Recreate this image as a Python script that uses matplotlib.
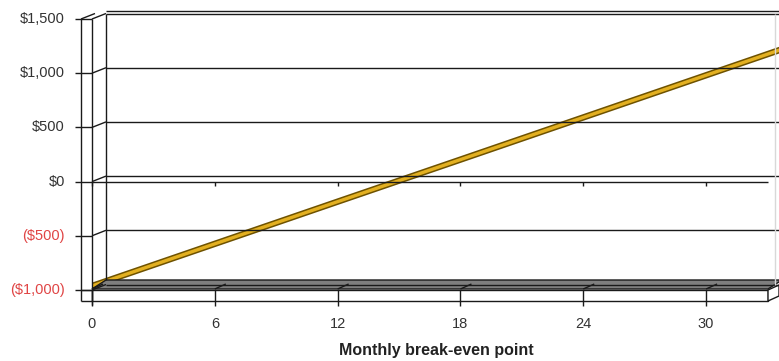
import matplotlib
matplotlib.use("Agg")
import matplotlib.pyplot as plt
import matplotlib.patheffects as pe
from matplotlib.transforms import ScaledTranslation
from matplotlib.patches import Polygon
from matplotlib.lines import Line2D

plt.rcParams['font.family'] = ['Liberation Sans', 'DejaVu Sans']

# cumulative profit by month
months = [0, 6, 12, 18, 24, 30, 36]
profit = [-963, -574, -185, 203, 592, 981, 1370]

y_ticks = [-1000, -500, 0, 500, 1000, 1500]
y_labels = ['($1,000)', '($500)', '$0', '$500', '$1,000', '$1,500']
x_ticks = [0, 6, 12, 18, 24, 30]

W, H = 779, 361
fig = plt.figure(figsize=(W / 100, H / 100), dpi=100)
fig.patch.set_facecolor('white')

# front plane: month 0 at x=92px, -1000 at y=290px, 1500 at y=19px
ax = fig.add_axes([92 / W, (H - 290) / H, 687 / W, 271 / H])
ax.set_xlim(0, 687 / 20.47)
ax.set_ylim(-1000, 1500)
ax.axis('off')

xmax = 676 / 20.47  # right end of the floor


def off(dx, dy):
    # data coords shifted by a pixel offset (dy positive = up)
    return ax.transData + ScaledTranslation(dx / 100, dy / 100, fig.dpi_scale_trans)


def seg(p0, p1, d0=(0, 0), d1=None, **kw):
    """line between two data points, each with its own pixel offset"""
    if d1 is None:
        d1 = d0
    a = off(*d0).transform(p0)
    b = off(*d1).transform(p1)
    inv = fig.transFigure.inverted()
    a, b = inv.transform(a), inv.transform(b)
    kw.setdefault('color', '#1a1a1a')
    kw.setdefault('lw', 1.0)
    fig.add_artist(Line2D([a[0], b[0]], [a[1], b[1]], transform=fig.transFigure,
                          solid_capstyle='butt', **kw))


back = (14, 5.5)
wall = 11

# back wall gridlines and left-side ticks
for v in y_ticks:
    seg((0, v), (40, v), back)
    seg((0, v), (0, v), (-17, 0), (0, 0))
    seg((0, v), (0, v), (0, 0), back)
seg((0, 1500), (40, 1500), (14, 8))

# left wall
seg((0, 1500), (0, -1000), (-wall, 0), (-wall, -11))
seg((0, 1500), (0, -1000), (0, 0), (0, -15))
seg((0, 1500), (0, -1000), back, (14, 10))
seg((0, 1500), (0, 1500), (-wall, 0), (3, 5.5))
seg((0, -1000), (0, -1000), (-wall, -11), (0, -11))
seg((0, -1000), (0, -1000), (-wall, 0), (0, 0))

# faint right edge of the back wall
seg((xmax, 1500), (xmax, -1000), (7, 5.5), (7, 5), color='#d8d8d8')

# floor
def poly(pts, **kw):
    inv = fig.transFigure.inverted()
    xy = [inv.transform(off(dx, dy).transform(p)) for p, dx, dy in pts]
    fig.add_artist(Polygon(xy, closed=True, transform=fig.transFigure, **kw))


poly([((0, -1000), 0, 1), ((xmax, -1000), 0, 1), ((xmax, -1000), 14, 10),
      ((0, -1000), 14, 10)], facecolor='#7f7f7f', edgecolor='#1a1a1a', lw=1.0)
poly([((0, -1000), 0, 0), ((xmax, -1000), 0, 0), ((xmax, -1000), 0, -11),
      ((0, -1000), 0, -11)], facecolor='white', edgecolor='#1a1a1a', lw=1.0)
poly([((xmax, -1000), 0, 0), ((xmax, -1000), 11, 5), ((xmax, -1000), 11, -6),
      ((xmax, -1000), 0, -11)], facecolor='white', edgecolor='#1a1a1a', lw=1.0)

# x ticks on the floor and on the zero line
for m in x_ticks:
    seg((m, -1000), (m, -1000), (0, 0), (0, -16))
    seg((m, -1000), (m, -1000), (0, 1), (11, 6))
    seg((m, 0), (m, 0), (0, 0), (0, -4))
seg((0, 0), (xmax, 0))

# profit line
ax.plot(months, profit, color='#e3b021', lw=2.4, solid_capstyle='butt',
        path_effects=[pe.Stroke(linewidth=4.6, foreground='#6e5200'), pe.Normal()])

# labels
for v, lab in zip(y_ticks, y_labels):
    c = '#e04545' if v < 0 else '#333333'
    ax.text(0, v, lab, transform=off(-27, 0), ha='right', va='center',
            fontsize=10.5, color=c)
for m in x_ticks:
    ax.text(m, -1000, str(m), transform=off(0, -34), ha='center', va='center',
            fontsize=10.5, color='#333333')

fig.text(436 / W, (H - 351) / H, 'Monthly break-even point', ha='center',
         va='center', fontsize=11.5, fontweight='bold', color='#222222')

fig.savefig('out.png', dpi=100, facecolor='white')
